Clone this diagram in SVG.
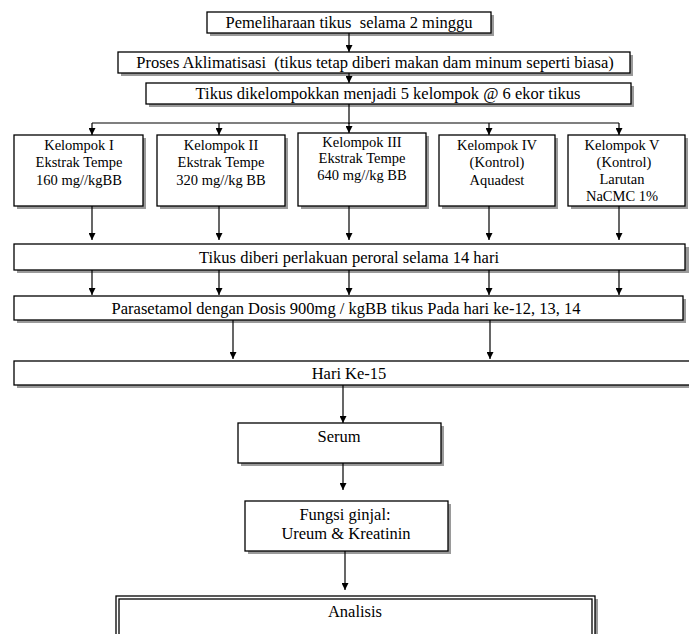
<svg xmlns="http://www.w3.org/2000/svg" width="689" height="634" viewBox="0 0 689 634">
<style>
.b{fill:#fff;stroke:#000;stroke-width:1.3}
.s{fill:#9a9a9a}
.t{font-family:"Liberation Serif","Times New Roman",serif;font-size:16.5px;fill:#000;text-anchor:middle;white-space:pre}
.g{font-size:14.5px}
.c{fill:none;stroke:#000;stroke-width:1.2}
</style>
<defs>
<marker id="ah" viewBox="0 0 10 10" refX="10" refY="5" markerWidth="7" markerHeight="7" orient="auto" markerUnits="userSpaceOnUse">
<path d="M0,0 L10,5 L0,10 Z" fill="#000"/>
</marker>
</defs>
<rect width="689" height="634" fill="#fff"/>

<g id="n1"><rect class="s" x="210" y="15" width="284" height="21"/><rect class="b" x="207" y="12" width="284" height="21"/><text class="t" x="349" y="28" xml:space="preserve">Pemeliharaan tikus  selama 2 minggu</text></g>
<g id="n2"><rect class="s" x="121" y="55" width="512" height="21"/><rect class="b" x="118" y="52" width="512" height="21"/><text class="t" x="375" y="68" xml:space="preserve">Proses Aklimatisasi  (tikus tetap diberi makan dam minum seperti biasa)</text></g>
<g id="n3"><rect class="s" x="149" y="86" width="485" height="21"/><rect class="b" x="146" y="83" width="485" height="21"/><text class="t" x="388" y="99">Tikus dikelompokkan menjadi 5 kelompok @ 6 ekor tikus</text></g>

<g id="k1"><rect class="s" x="17" y="138" width="129" height="71"/><rect class="b" x="14" y="135" width="129" height="71"/><text class="t g" x="79" y="150">Kelompok I</text><text class="t g" x="79" y="167">Ekstrak Tempe</text><text class="t g" x="79" y="185">160 mg//kgBB</text></g>
<g id="k2"><rect class="s" x="160" y="138" width="128" height="71"/><rect class="b" x="157" y="135" width="128" height="71"/><text class="t g" x="221" y="150">Kelompok II</text><text class="t g" x="221" y="167">Ekstrak Tempe</text><text class="t g" x="221" y="185">320 mg//kg BB</text></g>
<g id="k3"><rect class="s" x="301" y="136" width="128" height="73"/><rect class="b" x="298" y="133" width="128" height="73"/><text class="t g" x="362" y="147">Kelompok III</text><text class="t g" x="362" y="163">Ekstrak Tempe</text><text class="t g" x="362" y="180">640 mg//kg BB</text></g>
<g id="k4"><rect class="s" x="442" y="138" width="116" height="71"/><rect class="b" x="439" y="135" width="116" height="71"/><text class="t g" x="497" y="150">Kelompok IV</text><text class="t g" x="497" y="167">(Kontrol)</text><text class="t g" x="497" y="185">Aquadest</text></g>
<g id="k5"><rect class="s" x="571" y="138" width="117" height="71"/><rect class="b" x="568" y="135" width="117" height="71"/><text class="t g" x="622" y="150">Kelompok V</text><text class="t g" x="624" y="167">(Kontrol)</text><text class="t g" x="622" y="184">Larutan</text><text class="t g" x="622" y="201">NaCMC 1%</text></g>

<g id="n4"><rect class="s" x="17" y="247" width="672" height="26"/><rect class="b" x="14" y="244" width="671" height="26"/><text class="t" x="349" y="263">Tikus diberi perlakuan peroral selama 14 hari</text></g>
<g id="n5"><rect class="s" x="17" y="299" width="669" height="24"/><rect class="b" x="14" y="296" width="669" height="24"/><text class="t" x="346" y="314">Parasetamol dengan Dosis 900mg / kgBB tikus Pada hari ke-12, 13, 14</text></g>
<g id="n6"><rect class="s" x="17" y="364" width="675" height="24"/><rect class="b" x="14" y="361" width="678" height="24"/><text class="t" x="349" y="379">Hari Ke-15</text></g>
<g id="n7"><rect class="s" x="241" y="426" width="203" height="40"/><rect class="b" x="238" y="423" width="203" height="40"/><text class="t" x="339" y="442">Serum</text></g>
<g id="n8"><rect class="s" x="248" y="504" width="203" height="50"/><rect class="b" x="245" y="501" width="203" height="50"/><text class="t" x="345" y="520">Fungsi ginjal:</text><text class="t" x="346" y="539">Ureum &amp; Kreatinin</text></g>
<g id="n9"><rect class="s" x="119" y="599" width="479" height="40"/><rect class="b" x="116" y="596" width="479" height="42" stroke-width="1.2"/><rect class="b" x="119" y="599" width="473" height="40" stroke-width="1.2"/><text class="t" x="355" y="617">Analisis</text></g>

<g id="connectors">
<path class="c" d="M349,33 V52" marker-end="url(#ah)"/>
<path class="c" d="M349,73 V83" marker-end="url(#ah)"/>
<path class="c" d="M349,104 V124 M92,123 H619"/>
<path class="c" d="M92,123 V135" marker-end="url(#ah)"/>
<path class="c" d="M219,123 V135" marker-end="url(#ah)"/>
<path class="c" d="M349,123 V133" marker-end="url(#ah)"/>
<path class="c" d="M489,123 V135" marker-end="url(#ah)"/>
<path class="c" d="M619,123 V135" marker-end="url(#ah)"/>
<path class="c" d="M92,206 V240" marker-end="url(#ah)"/>
<path class="c" d="M219,206 V240" marker-end="url(#ah)"/>
<path class="c" d="M349,206 V240" marker-end="url(#ah)"/>
<path class="c" d="M489,206 V240" marker-end="url(#ah)"/>
<path class="c" d="M619,206 V240" marker-end="url(#ah)"/>
<path class="c" d="M92,270 V295" marker-end="url(#ah)"/>
<path class="c" d="M219,270 V295" marker-end="url(#ah)"/>
<path class="c" d="M349,270 V295" marker-end="url(#ah)"/>
<path class="c" d="M489,270 V295" marker-end="url(#ah)"/>
<path class="c" d="M619,270 V295" marker-end="url(#ah)"/>
<path class="c" d="M233,320 V359" marker-end="url(#ah)"/>
<path class="c" d="M490,320 V359" marker-end="url(#ah)"/>
<path class="c" d="M343,385 V423" marker-end="url(#ah)"/>
<path class="c" d="M343,463 V490" marker-end="url(#ah)"/>
<path class="c" d="M345,551 V590" marker-end="url(#ah)"/>
</g>
</svg>
